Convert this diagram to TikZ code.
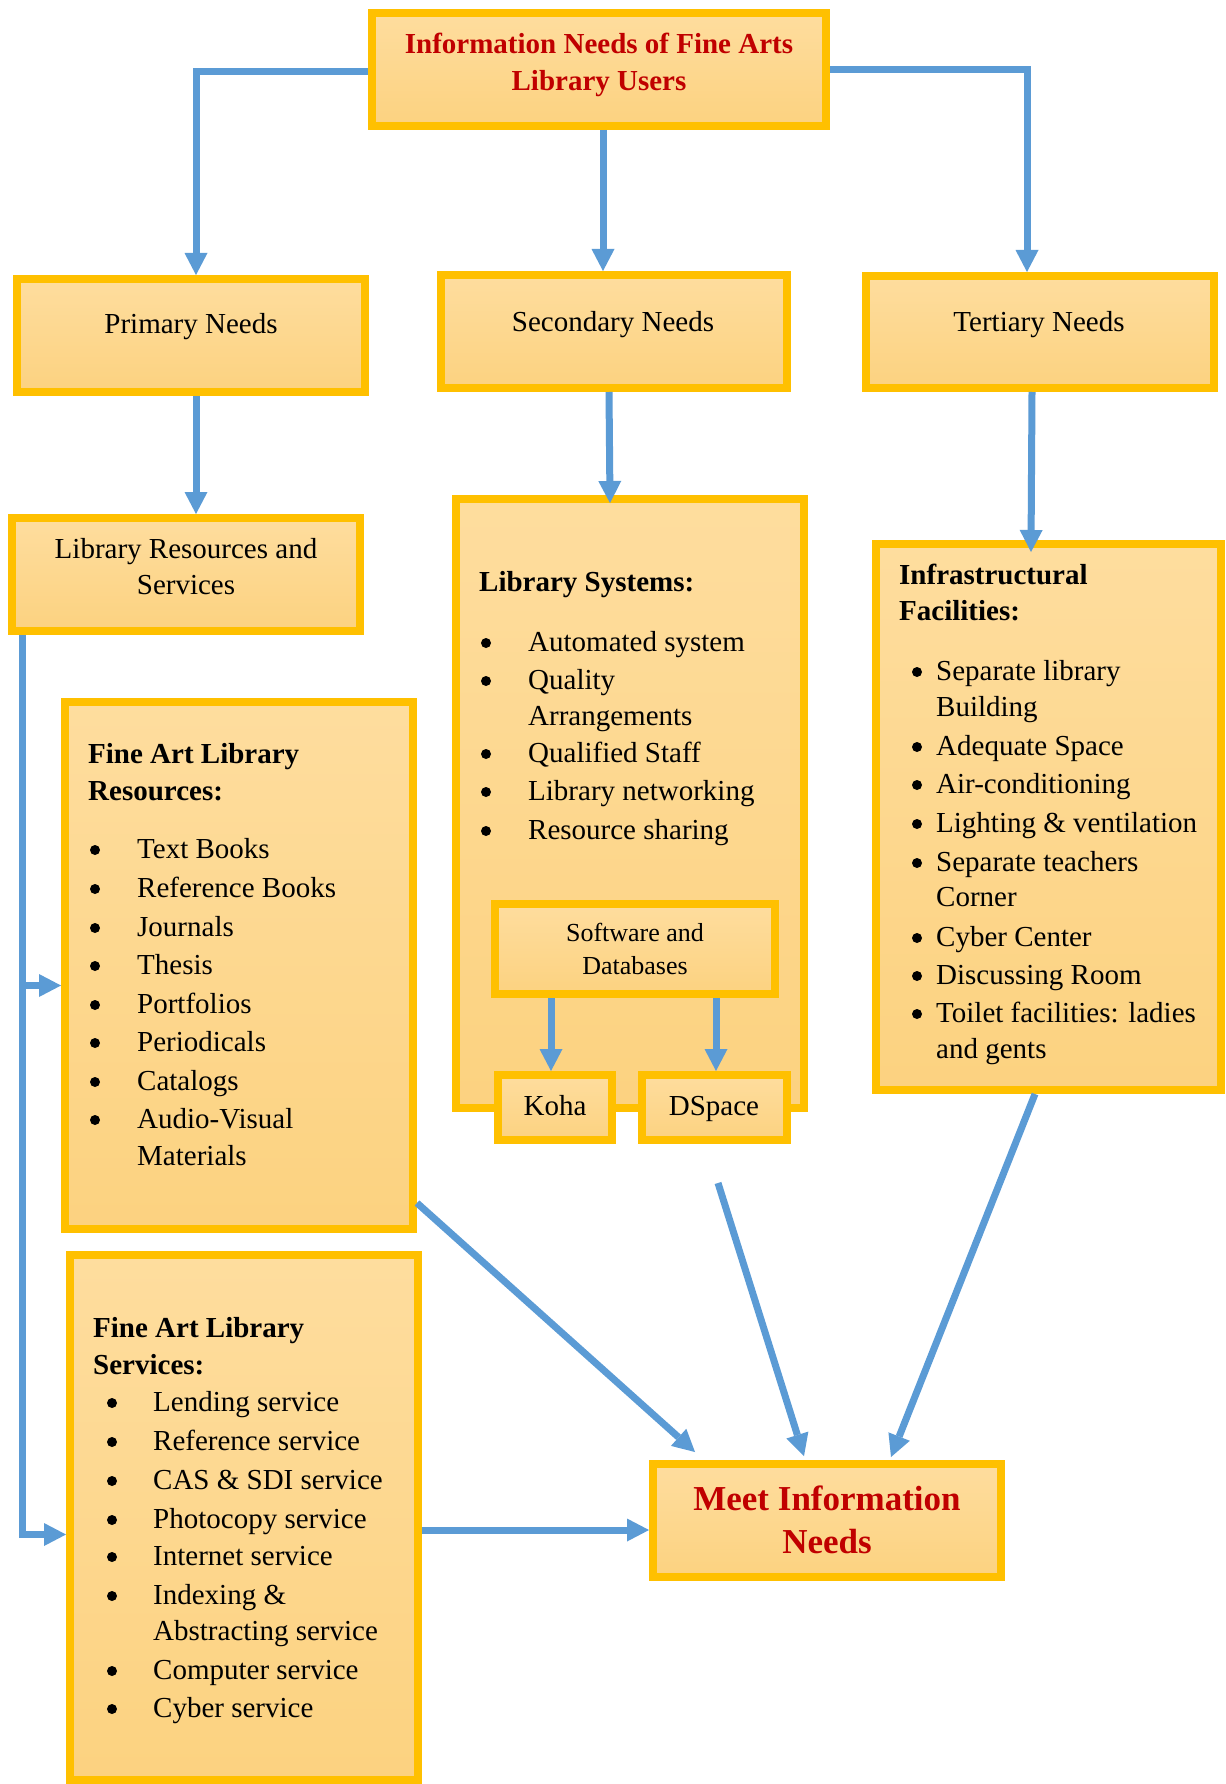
\documentclass[tikz,border=0pt]{standalone}
\usepackage{fontspec}
\setmainfont{Liberation Serif}
\usetikzlibrary{arrows.meta,calc}
\definecolor{gold}{RGB}{255,192,0}
\definecolor{ftop}{RGB}{254,221,158}
\definecolor{fbot}{RGB}{252,210,128}
\definecolor{ablue}{RGB}{91,155,213}
\definecolor{dred}{RGB}{192,0,0}
\newcommand\fsz[1]{\fontsize{#1}{#1}\selectfont}
\begin{document}
\begin{tikzpicture}[x=1pt,y=-1pt,
  box/.style 2 args={draw=gold, line width=8pt, top color=ftop, bottom color=fbot, inner sep=0pt, minimum width=#1, minimum height=#2},
  arr/.style={draw=ablue, line width=7pt, -{Triangle[width=23pt,length=22pt,line width=0pt]}, line join=miter},
  lbl/.style={inner sep=0pt, font=\fsz{29}, anchor=base},
  ttl/.style={inner sep=0pt, font=\fsz{29}\bfseries, text=dred, anchor=base},
  big/.style={inner sep=0pt, font=\fsz{35}\bfseries, text=dred, anchor=base},
  hd/.style={inner sep=0pt, font=\fsz{29}\bfseries, anchor=base west},
  itm/.style={inner sep=0pt, font=\fsz{29}, anchor=base west},
  bul/.style={circle, fill=black, inner sep=0pt, minimum size=10pt},
]
\fill[white] (0,0) rectangle (1225,1784);
\useasboundingbox (0,0) rectangle (1225,1784);

% boxes
\node[box={454pt}{113pt}] (T) at (599,69.5) {};
\node[box={348pt}{113pt}] (P) at (191,335.5) {};
\node[box={346pt}{113pt}] (S) at (614,331.5) {};
\node[box={348pt}{112pt}] (TN) at (1040,332) {};
\node[box={348pt}{113pt}] (LRS) at (186,574.5) {};
\node[box={348pt}{609pt}] (LS) at (630,803.5) {};
\node[box={280pt}{90pt}] (SD) at (635,949) {};
\node[box={114pt}{65pt}] (Koha) at (555,1107.5) {};
\node[box={145pt}{65pt}] (DSp) at (714.5,1107.5) {};
\node[box={345pt}{546pt}] (Infra) at (1048.5,817) {};
\node[box={348pt}{527pt}] (Res) at (239,965.5) {};
\node[box={348pt}{525pt}] (Serv) at (244,1517.5) {};
\node[box={348pt}{113pt}] (Meet) at (827,1520.5) {};

% simple texts
\node[ttl] (t1) at (599,54) {Information Needs of Fine Arts};
\node[ttl] (t2) at (599,90.7) {Library Users};
\node[lbl] (p1) at (191,334) {Primary Needs};
\node[lbl] (s1) at (613,331) {Secondary Needs};
\node[lbl] (tn1) at (1039,331) {Tertiary Needs};
\node[lbl] (l1) at (186,558) {Library Resources and};
\node[lbl] (l2) at (186,594) {Services};
\node[lbl, font=\fsz{26}] (sd1) at (635,941) {Software and};
\node[lbl, font=\fsz{26}] (sd2) at (635,974) {Databases};
\node[lbl] (k1) at (555,1115) {Koha};
\node[lbl] (d1) at (714,1115) {DSpace};
\node[big] (m1) at (827,1510) {Meet Information};
\node[big] (m2) at (827,1553) {Needs};

% Library systems
\node[hd] (lsh) at (479,591) {Library Systems:};
\foreach \ya/\lbltext [count=\i] in {651/Automated system, 689/Quality, 725/Arrangements, 762/Qualified Staff, 800/Library networking, 839/Resource sharing}
  {\node[itm] (ls-\i) at (528,\ya) {\lbltext};}
\foreach \ya [count=\i] in {651,689,762,800,839}
  {\node[bul] (lsb-\i) at (486,\ya-8) {};}

% Resources
\node[hd] (rh1) at (88,763) {Fine Art Library};
\node[hd] (rh2) at (88,800) {Resources:};
\foreach \ya/\lbltext [count=\i] in {858/Text Books, 897/Reference Books, 936/Journals, 974/Thesis, 1013/Portfolios, 1051/Periodicals, 1090/Catalogs, 1128/Audio-Visual, 1165/Materials}
  {\node[itm] (rs-\i) at (137,\ya) {\lbltext};}
\foreach \ya [count=\i] in {858,897,936,974,1013,1051,1090,1128}
  {\node[bul] (rsb-\i) at (95,\ya-8) {};}

% Services
\node[hd] (sh1) at (93,1337) {Fine Art Library};
\node[hd] (sh2) at (93,1374) {Services:};
\foreach \ya/\lbltext [count=\i] in {1411/Lending service, 1450/Reference service, 1489/CAS \& SDI service, 1528/Photocopy service, 1565/Internet service, 1604/Indexing \&, 1640/Abstracting service, 1679/Computer service, 1717/Cyber service}
  {\node[itm] (sv-\i) at (153,\ya) {\lbltext};}
\foreach \ya [count=\i] in {1411,1450,1489,1528,1565,1604,1679,1717}
  {\node[bul] (svb-\i) at (112,\ya-8) {};}

% Infrastructure
\node[hd] (ih1) at (899,584) {Infrastructural};
\node[hd] (ih2) at (899,620) {Facilities:};
\foreach \ya/\lbltext [count=\i] in {680/Separate library, 716/Building, 755/Adequate Space, 793/Air-conditioning, 832/Lighting \& ventilation, 871/Separate teachers, 906/Corner, 946/Cyber Center, 984/Discussing Room, 1022/Toilet facilities: ladies, 1058/and gents}
  {\node[itm] (in-\i) at (936,\ya) {\lbltext};}
\foreach \ya [count=\i] in {680,755,793,832,871,946,984,1022}
  {\node[bul] (inb-\i) at (917,\ya-8) {};}

% connectors
\draw[arr] ([yshift=-2.5pt]T.west) -| ([xshift=5pt]P.north);
\draw[arr] ([xshift=4pt]T.south) -- ([xshift=-11pt]S.north);
\draw[arr] (T.east) -| ([xshift=-13pt]TN.north);
\draw[arr] ([xshift=5pt]P.south) -- ([xshift=10pt]LRS.north);
\draw[arr] ([xshift=-5pt]S.south) -- ([xshift=-20pt,yshift=-8pt]LS.north);
\draw[arr] ([xshift=-8pt]TN.south) -- ([xshift=-17.5pt,yshift=-12pt]Infra.north);
\draw[arr] ([xshift=-164pt]LRS.south) |- ([yshift=-17pt]Serv.west);
\draw[arr] ([xshift=-164pt]LRS.south) |- ([yshift=-20pt]Res.west);
\draw[arr] ([xshift=-84pt]SD.south) -- ([xshift=-4pt]Koha.north);
\draw[arr] ([xshift=81pt]SD.south) -- ([xshift=1.5pt]DSp.north);
\draw[arr] ([yshift=30pt]Res.south east) -- ([xshift=46pt,yshift=8pt]Meet.north west);
\coordinate (lsout) at (718,1183);
\draw[arr] (lsout) -- ([xshift=-23pt,yshift=4pt]Meet.north);
\draw[arr] ([xshift=-13.5pt]Infra.south) -- ([xshift=64pt,yshift=3pt]Meet.north);
\draw[arr] ([yshift=-12.5pt]Serv.east) -- ([yshift=-9.5pt]Meet.west);
\end{tikzpicture}
\end{document}
